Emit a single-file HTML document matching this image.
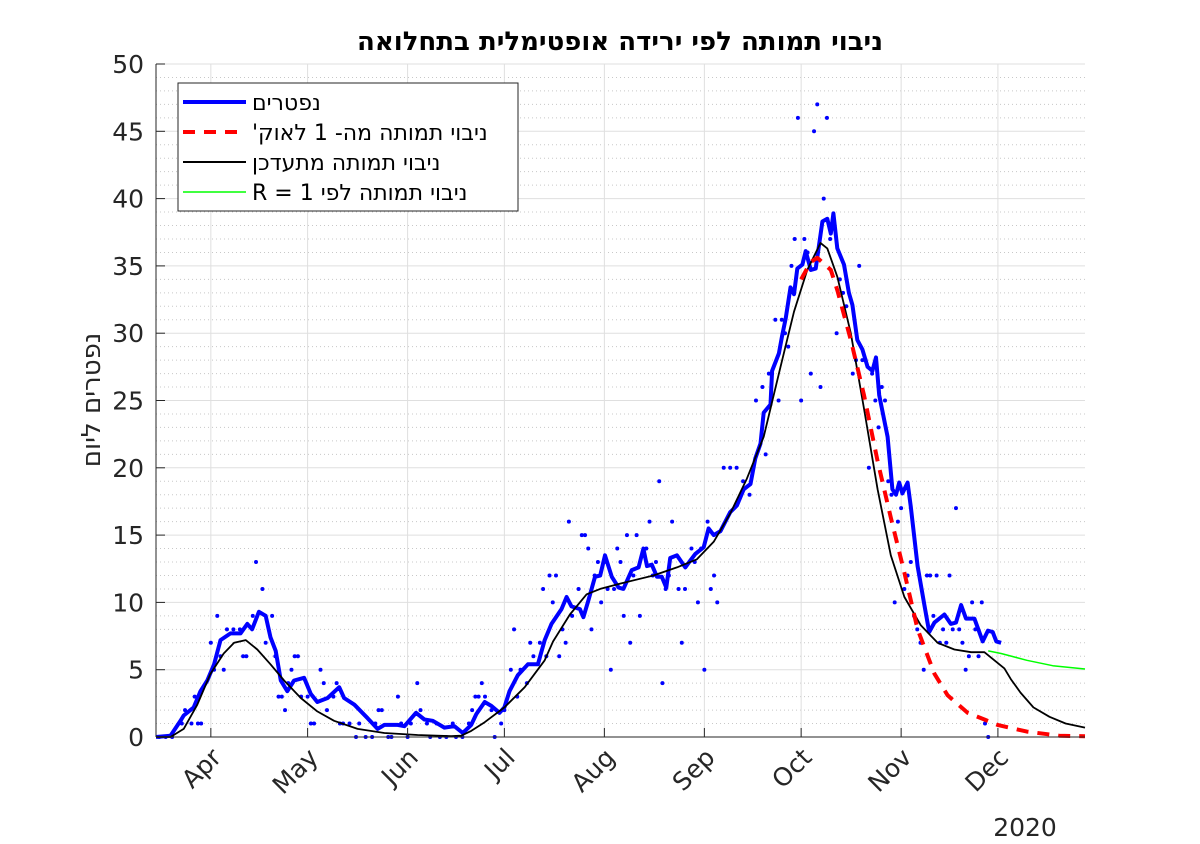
<!DOCTYPE html>
<html><head><meta charset="utf-8"><style>
body{margin:0;background:#fff;}
svg{display:block;font-family:"DejaVu Sans","Liberation Sans",sans-serif;}
</style></head><body>
<svg id="chart" width="1200" height="844" viewBox="0 0 1200 844" xmlns="http://www.w3.org/2000/svg">
<rect width="1200" height="844" fill="#fff"/>
<g id="grid"></g>
<g id="marks"></g>
<g id="axes"></g>
<text x="620" y="50" text-anchor="middle" font-size="26" font-weight="bold" fill="#000" direction="rtl">ניבוי תמותה לפי ירידה אופטימלית בתחלואה</text>
<text transform="translate(100,400) rotate(-90)" text-anchor="middle" font-size="26" fill="#262626" direction="rtl">נפטרים ליום</text>
<text x="1025" y="836" text-anchor="middle" font-size="25" fill="#262626">2020</text>
<g>
<rect x="178" y="83" width="340" height="128" fill="#fff" stroke="#262626" stroke-width="1"/>
<g><line x1="183" y1="102" x2="246" y2="102" stroke="#0000ff" stroke-width="4"/><text x="252" y="110" font-size="22" fill="#000" direction="rtl" text-anchor="end">נפטרים</text></g>
<g><line x1="183" y1="132" x2="246" y2="132" stroke="#ff0000" stroke-width="4" stroke-dasharray="12,9"/><text x="252" y="140" font-size="22" fill="#000" direction="rtl" text-anchor="end">ניבוי תמותה מה- 1 לאוק'</text></g>
<g><line x1="183" y1="162" x2="246" y2="162" stroke="#000" stroke-width="2"/><text x="252" y="170" font-size="22" fill="#000" direction="rtl" text-anchor="end">ניבוי תמותה מתעדכן</text></g>
<g><line x1="183" y1="192" x2="246" y2="192" stroke="#00ff00" stroke-width="1.5"/><text x="252" y="200" font-size="22" fill="#000" direction="rtl" text-anchor="end">ניבוי תמותה לפי R = 1</text></g>
</g>
</svg>
<script>
const monthLabels=["Apr","May","Jun","Jul","Aug","Sep","Oct","Nov","Dec"];
const monthDays=[17,47,78,108,139,170,200,231,261];
const yTicks=[0,5,10,15,20,25,30,35,40,45,50];
const blueDays=[0,4.5,7.6,8.6,11.7,13.8,15.9,18,20,23.1,26.2,28.3,29.8,31.9,34,35.5,37.1,38.7,40.7,42.8,45.9,48,50,53.2,56.8,58.3,61.5,65.6,68.7,70.8,74.9,77,80.6,83.2,85.8,89.4,92.5,95.1,97.7,99.3,101.9,104,106.5,108,109.6,112.2,115.3,118.4,120.5,122.6,125.7,127.3,128.8,131.4,132.5,134,136.1,137.7,139.2,141.3,143.4,144.9,147.5,149.6,151.1,152.2,153.7,155.3,156.8,158.2,159.4,161.5,164.1,165.6,167.2,169.8,171.3,172.9,175,178,180.1,182.2,184.3,185.8,187.4,188.4,190.5,191,193.1,194.1,195.2,196.7,197.8,198.8,200.4,201.4,203,204.5,206.6,208.1,209.2,210,211.2,213.3,214.8,215.9,217.4,219,220.6,222.1,223.2,224.2,226.8,228.3,229.4,230.4,231.4,233,234,236.1,238.2,239.7,241.3,244.4,246.4,248,249.6,251.1,253.7,256.3,257.9,259.4,260.5,262];
const blueVals=[0,0.1,1.2,1.6,2.2,3.4,4.2,5.4,7.2,7.7,7.7,8.4,8.0,9.3,9.0,7.4,6.4,4.2,3.4,4.2,4.4,3.2,2.6,2.9,3.7,2.9,2.4,1.4,0.6,0.9,0.9,0.8,1.8,1.3,1.2,0.7,0.8,0.3,0.9,1.7,2.6,2.3,1.8,2.2,3.4,4.6,5.4,5.4,7.2,8.4,9.5,10.4,9.7,9.5,8.9,10.1,11.9,12,13.5,11.9,11.1,11,12.4,12.6,14,12.7,12.8,11.9,11.9,11.1,13.3,13.5,12.6,13.1,13.6,14.1,15.5,15,15.3,16.7,17.2,18.4,18.8,20.7,21.8,24.1,24.7,27.2,28.5,29.8,31.1,33.4,32.9,34.8,35.1,36.1,34.7,34.8,38.3,38.5,37.4,38.9,36.3,35.1,33,32.1,29.5,28.8,27.5,27.2,28.2,25.4,22.3,18.4,18,18.9,18.1,18.9,17.1,12.7,9.8,7.8,8.5,9.1,8.4,8.5,9.8,8.8,8.8,7.1,7.9,7.8,7.1,7.0];
const blackDays=[0,4.5,8.6,12.8,16.9,21,24.2,27.8,31.4,35.5,39.7,44.9,50,55.2,62.5,70.8,81.1,91.5,94.6,97.7,101.9,108,114.3,120.5,123.1,128.3,133.5,137.7,143.9,154.2,161.5,167.7,172.9,178,183.2,188.4,193.6,197.8,201.9,206,208.1,211.2,215.4,219.5,223.7,227.8,232,237.1,242.3,247.5,252.7,256.8,259.9,263,265,268,272,277,282,288];
const blackVals=[0,0,0.6,2.4,4.7,6.2,7.0,7.2,6.5,5.4,4.2,2.9,1.9,1.2,0.6,0.3,0.15,0.07,0.1,0.45,1.1,2.2,3.7,5.7,7.1,9.1,10.6,11,11.4,12,12.6,13.2,14.5,16.6,19.2,22.3,27.5,31.6,34.7,36.7,36.3,34.2,30,24.4,18.4,13.5,10.4,8.3,7.0,6.5,6.3,6.3,5.7,5.1,4.3,3.3,2.2,1.5,1.0,0.7];
const redDays=[200,203,205,209.2,211.2,215.4,219.5,223.7,227.8,232,236.1,241.3,245.4,251.6,256.8,260.9,270,280,288];
const redVals=[34,35.3,35.6,34.7,33.2,29.5,25.4,20.5,16.3,12.2,8,4.7,3.1,1.8,1.3,0.9,0.4,0.1,0.05];
const greenDays=[258,262,270,278,288];
const greenVals=[6.4,6.2,5.7,5.3,5.05];
const dotDays=[1,3,5,8,9,11,12,13,14,17,18,19,20,21,22,24,26,27,28,30,31,33,34,36,37,38,39,40,41,42,43,44,45,47,48,49,51,52,53,55,56,57,58,60,62,63,65,67,68,69,70,72,73,75,76,78,79,81,82,84,85,87,88,90,92,93,95,97,98,99,100,101,102,104,105,107,108,110,111,112,113,115,116,117,119,120,121,122,123,124,125,126,127,128,129,131,132,133,134,135,136,137,138,139,140,141,142,143,144,145,146,147,148,149,150,152,153,154,155,156,157,158,159,160,162,163,164,166,167,168,169,170,171,172,173,174,176,178,180,182,184,186,188,189,190,191,192,193,194,195,196,197,198,199,200,201,202,203,204,205,206,207,208,209,210,211,212,213,214,215,216,217,218,219,220,221,222,223,224,225,226,227,228,229,230,231,232,233,234,235,236,237,238,239,240,241,242,243,244,245,246,247,248,249,250,251,252,253,254,255,256,257,258];
const dotVals=[0,0,0,1,2,1,3,1,1,7,5,9,6,5,8,8,8,6,6,9,13,11,7,9,6,3,3,2,4,5,6,6,3,3,1,1,5,4,2,3,4,1,1,1,0,1,0,0,1,2,2,0,0,3,1,0,1,4,2,1,0,1,0,0,1,0,0,1,2,3,3,4,3,2,0,1,2,5,8,3,5,4,7,6,7,11,6,12,10,12,6,8,7,16,9,11,15,15,14,8,12,13,10,13,11,5,11,14,13,9,15,7,12,15,9,14,16,12,13,19,4,11,12,16,11,7,11,14,13,10,14,5,16,11,12,10,20,20,20,19,18,25,26,21,27,27,31,25,31,30,29,35,37,46,25,37,36,27,45,47,26,40,46,37,38,30,34,33,32,30,27,28,35,28,28,20,27,25,23,26,25,19,18,10,16,17,11,12,13,9,8,7,5,12,12,9,12,7,8,7,12,8,17,8,7,5,6,10,8,6,10,1,0];

const X0=156,X1=1085,Y0=737,Y1=64,D0=0,D1=288,V0=0,V1=50;
const xs=d=>X0+(d-D0)*(X1-X0)/(D1-D0);
const ys=v=>Y0-(v-V0)*(Y0-Y1)/(V1-V0);
const NS="http://www.w3.org/2000/svg";
function mk(tag,parent,attrs){const e=document.createElementNS(NS,tag);for(const k in attrs)e.setAttribute(k,attrs[k]);parent.appendChild(e);return e;}
const grid=document.getElementById('grid'),marks=document.getElementById('marks'),axes=document.getElementById('axes');
for(let v=1;v<50;v++){if(v%5===0)continue;
 const l=mk('line',grid,{x1:X0,x2:X1,y1:ys(v),y2:ys(v),stroke:'#c8c8c8','stroke-width':1,'stroke-dasharray':'1,3'});
 
 }
yTicks.forEach(v=>{if(v===0)return;
 const l=mk('line',grid,{x1:X0,x2:X1,y1:ys(v),y2:ys(v),stroke:'#dfdfdf','stroke-width':1});
 
 });
monthDays.forEach(d=>{
 const l=mk('line',grid,{x1:xs(d),x2:xs(d),y1:Y1,y2:Y0,stroke:'#dfdfdf','stroke-width':1});
 
 });
function path(days,vals,attrs,name){
 const dstr=days.map((d,i)=>(i?'L':'M')+xs(d).toFixed(1)+','+ys(vals[i]).toFixed(1)).join('');
 const p=mk('path',marks,Object.assign({d:dstr,fill:'none','stroke-linejoin':'round'},attrs));
 
 }
dotDays.forEach((d,i)=>{
 const c=mk('circle',marks,{cx:xs(d),cy:ys(dotVals[i]),r:2,fill:'#0000ff'});
 
 });
path(blueDays,blueVals,{stroke:'#0000ff','stroke-width':4},'deaths-line');
path(blackDays,blackVals,{stroke:'#000','stroke-width':1.8},'updating-forecast-line');
path(redDays,redVals,{stroke:'#ff0000','stroke-width':4,'stroke-dasharray':'12,9'},'aug1-forecast-line');
path(greenDays,greenVals,{stroke:'#00ff00','stroke-width':1.5},'r1-forecast-line');
let a=mk('line',axes,{x1:X0,x2:X0,y1:Y1,y2:Y0,stroke:'#262626','stroke-width':1});


a=mk('line',axes,{x1:X0,x2:X1,y1:Y0,y2:Y0,stroke:'#262626','stroke-width':1});


yTicks.forEach(v=>{
 const t=mk('line',axes,{x1:X0,x2:X0+9,y1:ys(v),y2:ys(v),stroke:'#262626'});
 
 
 const tx=mk('text',axes,{x:X0-12,y:ys(v)+9,'text-anchor':'end','font-size':25,fill:'#262626'});
 tx.textContent=v;
 
 });
monthDays.forEach((d,i)=>{
 const t=mk('line',axes,{x1:xs(d),x2:xs(d),y1:Y0,y2:Y0-9,stroke:'#262626'});
 
 
 const x=xs(d)+12,y=Y0+22;
 const tx=mk('text',axes,{x:x,y:y,'text-anchor':'end','font-size':25,fill:'#262626',transform:`rotate(-45 ${x} ${y})`});
 tx.textContent=monthLabels[i];
 
 });
</script>
</body></html>
